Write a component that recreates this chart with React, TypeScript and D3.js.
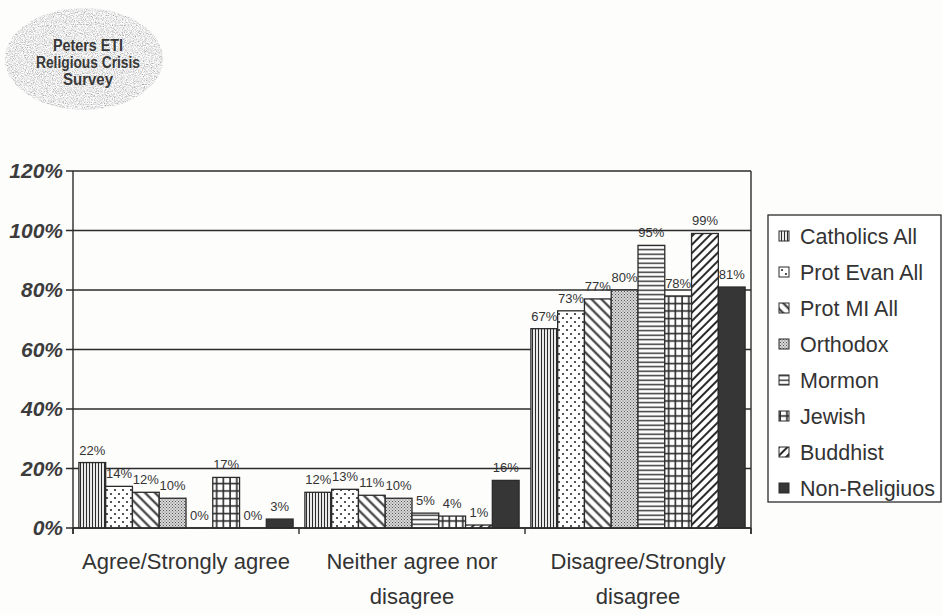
import React from "react";
import * as d3 from "d3";

// Survey response groups (x categories)
const categories = ["Agree/Strongly agree", "Neither agree nor disagree", "Disagree/Strongly disagree"];
const categoryLines = [["Agree/Strongly agree"], ["Neither agree nor", "disagree"], ["Disagree/Strongly", "disagree"]];

// One series per religious group, values in percent per category
const seriesNames = ["Catholics All", "Prot Evan All", "Prot MI All", "Orthodox", "Mormon", "Jewish", "Buddhist", "Non-Religiuos"];
const catholicsAll = [22, 12, 67];
const protEvanAll = [14, 13, 73];
const protMiAll = [12, 11, 77];
const orthodox = [10, 10, 80];
const mormon = [0, 5, 95];
const jewish = [17, 4, 78];
const buddhist = [0, 1, 99];
const nonReligious = [3, 16, 81];
const seriesValues = [catholicsAll, protEvanAll, protMiAll, orthodox, mormon, jewish, buddhist, nonReligious];

const yTicks = [0, 20, 40, 60, 80, 100, 120];
const badgeLines = ["Peters ETI", "Religious Crisis", "Survey"];

const W = 943;
const H = 615;
const plot = { left: 73, right: 751, top: 171, bottom: 528 };
const ink = "#2b2b2b";
const textInk = "#333";
const fillIds = ["p-vert", "p-dots", "p-bslash", "p-stipple", "p-horiz", "p-grid", "p-fslash", "p-solid"];

function Patterns() {
  return (
    <defs>
      <pattern id="p-vert" patternUnits="userSpaceOnUse" width="3" height="6">
        <rect width="3" height="6" fill="#fff" />
        <line x1="1.5" y1="0" x2="1.5" y2="6" stroke={ink} strokeWidth="1.2" />
      </pattern>
      <pattern id="p-dots" patternUnits="userSpaceOnUse" width="8" height="8">
        <rect width="8" height="8" fill="#fff" />
        <circle cx="2" cy="2" r="1.1" fill={ink} />
        <circle cx="6" cy="6" r="1.1" fill={ink} />
      </pattern>
      {/* descending diagonals: top-left to bottom-right */}
      <pattern id="p-bslash" patternUnits="userSpaceOnUse" width="7" height="7" patternTransform="rotate(45)">
        <rect width="7" height="7" fill="#fff" />
        <line x1="0" y1="3.5" x2="7" y2="3.5" stroke={ink} strokeWidth="2" />
      </pattern>
      <pattern id="p-stipple" patternUnits="userSpaceOnUse" width="3" height="3">
        <rect width="3" height="3" fill="#d8d8d8" />
        <rect x="0" y="0" width="1" height="1" fill="#555" />
        <rect x="1.5" y="1.5" width="1" height="1" fill="#666" />
      </pattern>
      <pattern id="p-horiz" patternUnits="userSpaceOnUse" width="6" height="4.5">
        <rect width="6" height="4.5" fill="#fff" />
        <line x1="0" y1="2.2" x2="6" y2="2.2" stroke={ink} strokeWidth="1.4" />
      </pattern>
      <pattern id="p-grid" patternUnits="userSpaceOnUse" width="6.7" height="7.5">
        <rect width="6.7" height="7.5" fill="#fff" />
        <line x1="3" y1="0" x2="3" y2="7.5" stroke={ink} strokeWidth="1.6" />
        <line x1="0" y1="3.5" x2="6.7" y2="3.5" stroke={ink} strokeWidth="1.6" />
      </pattern>
      {/* ascending diagonals: bottom-left to top-right */}
      <pattern id="p-fslash" patternUnits="userSpaceOnUse" width="6" height="6" patternTransform="rotate(-45)">
        <rect width="6" height="6" fill="#fff" />
        <line x1="0" y1="3" x2="6" y2="3" stroke={ink} strokeWidth="2" />
      </pattern>
      <pattern id="p-solid" patternUnits="userSpaceOnUse" width="4" height="4">
        <rect width="4" height="4" fill="#363636" />
      </pattern>
      <filter id="grain" x="0" y="0" width="100%" height="100%">
        <feTurbulence type="fractalNoise" baseFrequency="0.9" numOctaves="2" seed="7" result="noise" />
        <feColorMatrix in="noise" type="matrix"
          values="1.3 0 0 0 0.17  1.3 0 0 0 0.17  1.3 0 0 0 0.17  0 0 0 0 1" result="gray" />
        <feComposite in="gray" in2="SourceGraphic" operator="in" />
      </filter>
    </defs>
  );
}

export default function App() {
  const x0 = d3.scaleBand<string>().domain(categories).range([plot.left, plot.right]).paddingInner(0).paddingOuter(0);
  const x1 = d3.scaleBand<string>().domain(seriesNames).range([0, x0.bandwidth()]).paddingInner(0).paddingOuter(0.22);
  const y = d3.scaleLinear().domain([0, 120]).range([plot.bottom, plot.top]);
  const fmt = (v: number) => `${v}%`;

  const boundaries = [...categories.map((c) => x0(c) as number), plot.right];

  return (
    <svg width={W} height={H} style={{ position: "absolute", left: 0, top: 0, background: "#fdfdfc" }}
      fontFamily="'Liberation Sans', Arial, sans-serif">
      <Patterns />

      {/* survey badge */}
      <g>
        <ellipse cx={84} cy={59} rx={79} ry={51} fill="#c9c9c9" filter="url(#grain)" />
        {badgeLines.map((t, i) => (
          <text key={t} x={88} y={51 + i * 17} textAnchor="middle" fontSize={16} fontWeight="bold"
            fill="#383838" textLength={[70, 104, 50][i]} lengthAdjust="spacingAndGlyphs">{t}</text>
        ))}
      </g>

      {/* gridlines and y labels */}
      {yTicks.map((t) => (
        <g key={t}>
          <line x1={plot.left - 7} x2={plot.right} y1={y(t)} y2={y(t)} stroke={ink} strokeWidth={1.3} />
          <text x={63} y={y(t) + 7} textAnchor="end" fontSize={21} fontWeight="bold" fontStyle="italic" fill="#3c3c3c">
            {fmt(t)}
          </text>
        </g>
      ))}

      {/* axes frame */}
      <line x1={plot.left} x2={plot.left} y1={plot.top} y2={plot.bottom + 6} stroke={ink} strokeWidth={1.4} />
      <line x1={plot.right} x2={plot.right} y1={plot.top} y2={plot.bottom + 6} stroke={ink} strokeWidth={1.4} />
      {boundaries.map((b, i) => (
        <line key={i} x1={b} x2={b} y1={plot.bottom} y2={plot.bottom + 6} stroke={ink} strokeWidth={1.4} />
      ))}

      {/* bars */}
      {categories.map((c, ci) => (
        <g key={c} transform={`translate(${x0(c)},0)`}>
          {seriesNames.map((s, si) => {
            const v = seriesValues[si][ci];
            const bx = x1(s) as number;
            const bw = x1.bandwidth();
            return (
              <g key={s}>
                {v > 0 && (
                  <rect x={bx} y={y(v)} width={bw} height={y(0) - y(v)} fill={`url(#${fillIds[si]})`}
                    stroke={ink} strokeWidth={1.3} />
                )}
                <text x={bx + bw / 2} y={y(v) - 8} textAnchor="middle" fontSize={13} fill={textInk}>
                  {fmt(v)}
                </text>
              </g>
            );
          })}
        </g>
      ))}

      {/* baseline over the bars */}
      <line x1={plot.left} x2={plot.right} y1={y(0)} y2={y(0)} stroke={ink} strokeWidth={1.4} />

      {/* category labels */}
      {categories.map((c, ci) => (
        <text key={c} x={(x0(c) as number) + x0.bandwidth() / 2} textAnchor="middle" fontSize={22} fill={textInk}>
          {categoryLines[ci].map((line, li) => (
            <tspan key={li} x={(x0(c) as number) + x0.bandwidth() / 2} y={569 + li * 35}>{line}</tspan>
          ))}
        </text>
      ))}

      {/* legend */}
      <g>
        <rect x={768} y={215} width={173} height={287} fill="#fff" stroke={ink} strokeWidth={1.3} />
        {seriesNames.map((s, i) => {
          const cy = 236 + i * 36;
          return (
            <g key={s}>
              <rect x={779} y={cy - 5} width={10} height={10} fill={`url(#${fillIds[i]})`} stroke={ink} strokeWidth={1} />
              <text x={800} y={cy + 8} fontSize={21.5} fill={textInk}>{s}</text>
            </g>
          );
        })}
      </g>
    </svg>
  );
}
